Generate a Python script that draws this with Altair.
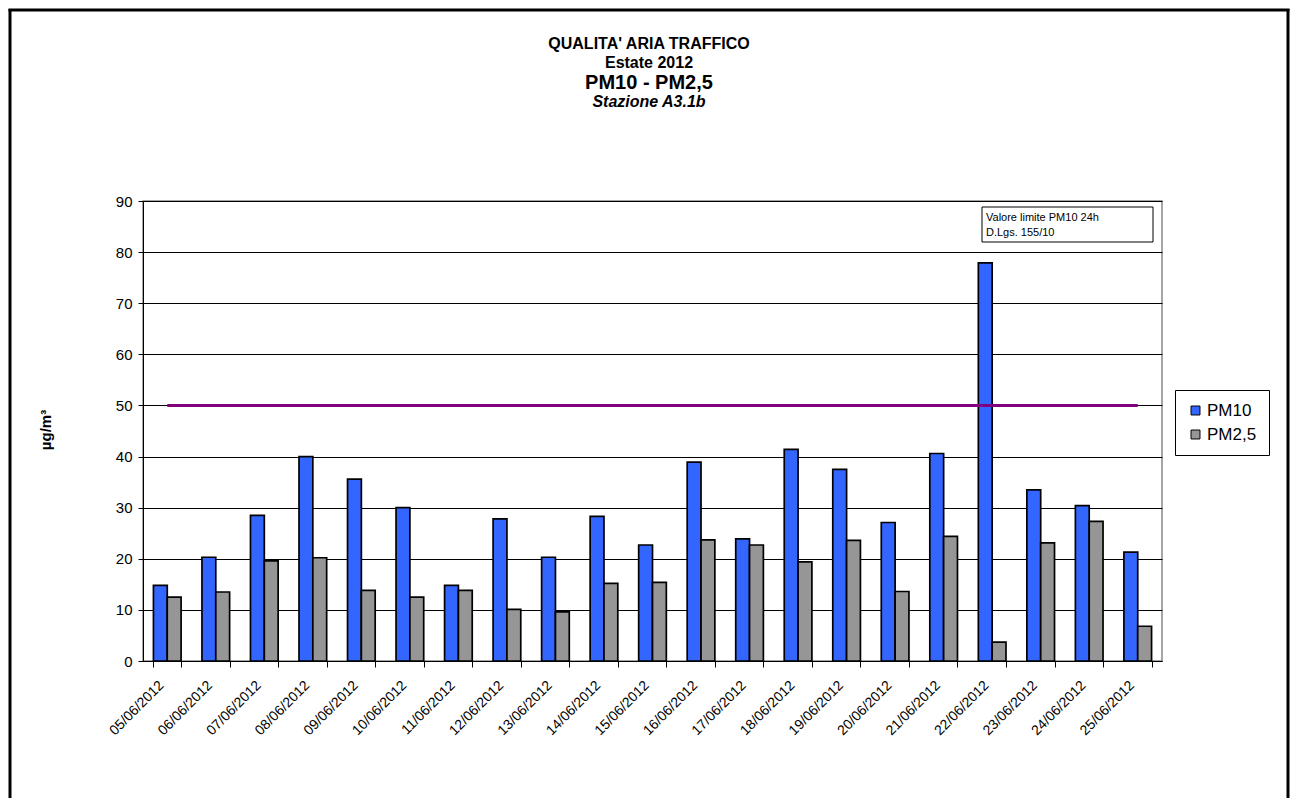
import altair as alt
import pandas as pd

dates = ["05/06/2012", "06/06/2012", "07/06/2012", "08/06/2012", "09/06/2012",
         "10/06/2012", "11/06/2012", "12/06/2012", "13/06/2012", "14/06/2012",
         "15/06/2012", "16/06/2012", "17/06/2012", "18/06/2012", "19/06/2012",
         "20/06/2012", "21/06/2012", "22/06/2012", "23/06/2012", "24/06/2012",
         "25/06/2012"]
pm10 = [14.8, 20.3, 28.5, 40.0, 35.6, 30.0, 14.8, 27.8, 20.3, 28.3, 22.7,
        38.9, 23.9, 41.4, 37.5, 27.1, 40.6, 77.9, 33.5, 30.4, 21.3]
pm25 = [12.5, 13.5, 19.6, 20.2, 13.8, 12.5, 13.8, 10.1, 9.6, 15.2, 15.4,
        23.7, 22.7, 19.4, 23.6, 13.6, 24.4, 3.7, 23.1, 27.3, 6.8]
series_names = ["PM10", "PM2,5"]
series_colors = ["#3366FF", "#969696"]
limit_value = 50
y_ticks = [0, 10, 20, 30, 40, 50, 60, 70, 80, 90]
title_lines = ["QUALITA' ARIA TRAFFICO", "Estate 2012", "PM10 - PM2,5", "Stazione A3.1b"]
note_lines = ["Valore limite PM10 24h", "D.Lgs. 155/10"]
y_title = "µg/m³"

FONT = "Liberation Sans"
W, H = 1019, 460

rows = []
for d, a, b in zip(dates, pm10, pm25):
    rows.append({"date": d, "series": series_names[0], "value": a})
    rows.append({"date": d, "series": series_names[1], "value": b})
df = pd.DataFrame(rows)

xscale = alt.Scale(domain=dates, paddingInner=0.43, paddingOuter=0.215)

bars = alt.Chart(df).mark_bar(stroke="black", strokeWidth=1.7).encode(
    x=alt.X("date:N", sort=dates, scale=xscale,
            axis=alt.Axis(title=None, labelAngle=-45, labelAlign="right", labelBaseline="middle",
                          tickBand="extent", labelFontSize=14, labelColor="black",
                          domainColor="black", tickColor="black", tickSize=6, labelPadding=16,
                          labelOffset=-6, grid=False, labelFont=FONT)),
    xOffset=alt.XOffset("series:N", sort=series_names,
                        scale=alt.Scale(paddingInner=0, paddingOuter=0)),
    y=alt.Y("value:Q", scale=alt.Scale(domain=[0, 90], nice=False),
            axis=alt.Axis(title=None, values=y_ticks, grid=True, gridColor="black", gridWidth=1,
                          domainColor="black", tickColor="black", tickSize=5,
                          labelFontSize=15, labelColor="black", labelFont=FONT, labelPadding=6)),
    color=alt.Color("series:N", sort=series_names,
                    scale=alt.Scale(domain=series_names, range=series_colors),
                    legend=alt.Legend(title=None, orient="none", legendX=1032, legendY=189,
                                      strokeColor="black", fillColor="white", padding=12,
                                      symbolType="square", symbolSize=80, symbolStrokeColor="black",
                                      symbolStrokeWidth=1, symbolOpacity=1,
                                      labelFontSize=17, labelFont=FONT, labelColor="black",
                                      rowPadding=6, labelOffset=3)),
)

limit_df = pd.DataFrame({"start": [dates[0]], "end": [dates[-1]], "limit": [limit_value]})
limit = alt.Chart(limit_df).mark_rule(color="#800080", strokeWidth=3).encode(
    x=alt.X("start:N", sort=dates, scale=xscale, bandPosition=0.5),
    x2=alt.X2("end", bandPosition=0.5),
    y=alt.Y("limit:Q"),
)

one = pd.DataFrame({"k": [0]})

note_box = alt.Chart(one).mark_rect(fill="white", stroke="black", strokeWidth=1).encode(
    x=alt.value(839), x2=alt.value(1010), y=alt.value(6), y2=alt.value(41))

note_df = pd.DataFrame({"t": note_lines, "yy": [17, 32]})
note_text = alt.Chart(note_df).mark_text(align="left", baseline="middle", fontSize=11,
                                         font=FONT, color="black").encode(
    x=alt.value(843), y=alt.Y("yy:Q", scale=None), text="t:N")

title_df = pd.DataFrame({
    "t": title_lines,
    "yy": [-157, -138, -118, -99],
    "sz": [16, 16, 20, 16],
    "st": ["normal", "normal", "normal", "italic"],
})
titles = []
for i in range(len(title_lines)):
    titles.append(alt.Chart(title_df.iloc[[i]]).mark_text(
        align="center", baseline="middle", fontSize=int(title_df.sz[i]), fontWeight="bold",
        fontStyle=title_df.st[i], font=FONT, color="black").encode(
        x=alt.value(506), y=alt.value(int(title_df.yy[i])), text="t:N"))

ytitle = alt.Chart(pd.DataFrame({"t": [y_title]})).mark_text(
    angle=270, align="center", baseline="middle", fontSize=15, fontWeight="bold",
    font=FONT, color="black").encode(x=alt.value(-97), y=alt.value(229), text="t:N")

frame_l = alt.Chart(one).mark_rule(color="black", strokeWidth=3).encode(
    x=alt.value(-133), y=alt.value(-192), y2=alt.value(600))
frame_t = alt.Chart(one).mark_rule(color="black", strokeWidth=3).encode(
    x=alt.value(-134.5), x2=alt.value(1146.5), y=alt.value(-191))
frame_r = alt.Chart(one).mark_rule(color="black", strokeWidth=3).encode(
    x=alt.value(1145), y=alt.value(-192), y2=alt.value(600))

chart = alt.layer(bars, limit, note_box, note_text, *titles, ytitle, frame_l, frame_t, frame_r).properties(
    width=W, height=H,
    padding={"left": 135, "top": 193, "right": 128, "bottom": 137},
    autosize=alt.AutoSizeParams(type="none"),
).configure(font=FONT).configure_view(stroke="#888888", strokeWidth=1.5)

chart.save("out.html", embed_options={"renderer": "svg", "actions": False})
